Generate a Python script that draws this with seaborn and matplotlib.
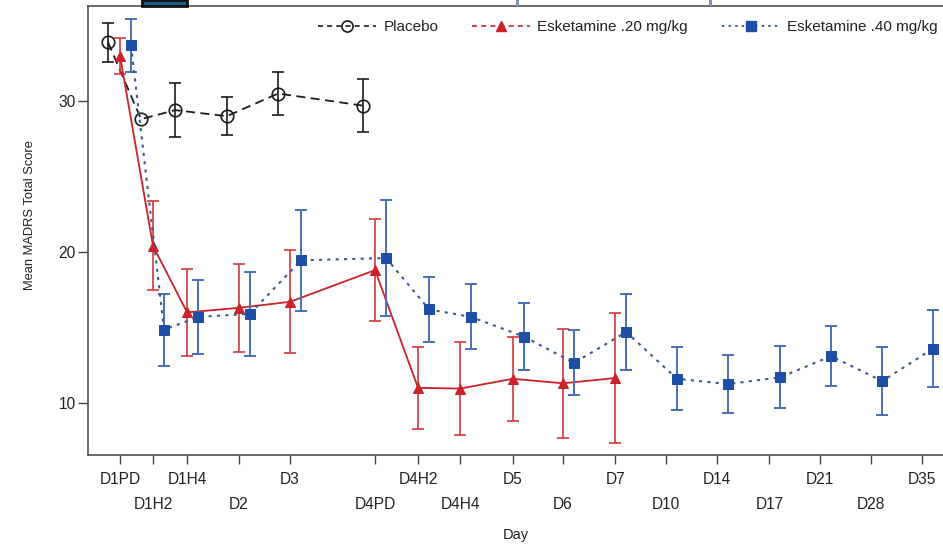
import numpy as np
import pandas as pd
import matplotlib
matplotlib.use("Agg")
import matplotlib.pyplot as plt
from matplotlib.lines import Line2D
from matplotlib.patches import Rectangle
import seaborn as sns

# Visit labels and their positions along the time axis
days = ["D1PD", "D1H2", "D1H4", "D2", "D3", "D4PD", "D4H2", "D4H4", "D5",
        "D6", "D7", "D10", "D14", "D17", "D21", "D28", "D35"]
day_pos = [0.0, 0.645, 1.31, 2.32, 3.32, 4.98, 5.82, 6.64, 7.67,
           8.65, 9.67, 10.66, 11.66, 12.68, 13.67, 14.67, 15.66]

# Mean MADRS total score and standard error per visit
placebo_mean = [33.9, 28.8, 29.4, 29.0, 30.5, 29.7]
placebo_err = [1.3, np.nan, 1.8, 1.25, 1.4, 1.75]

esk20_mean = [33.0, 20.4, 16.0, 16.3, 16.7, 18.8, 11.0, 10.95, 11.6, 11.3, 11.65]
esk20_err = [1.2, 2.95, 2.9, 2.9, 3.4, 3.4, 2.7, 3.1, 2.8, 3.6, 4.3]

esk40_mean = [33.7, 14.85, 15.7, 15.9, 19.45, 19.6, 16.2, 15.7, 14.4, 12.65,
              14.7, 11.6, 11.25, 11.7, 13.1, 11.45, 13.6]
esk40_err = [1.75, 2.4, 2.45, 2.8, 3.35, 3.85, 2.15, 2.15, 2.25, 2.15,
             2.55, 2.1, 1.9, 2.05, 2.0, 2.25, 2.55]

series_names = ["Placebo", "Esketamine .20 mg/kg", "Esketamine .40 mg/kg"]

sns.set_theme(style="ticks")
plt.rcParams["font.family"] = ["Liberation Sans", "DejaVu Sans"]

W, H = 943, 549
fig = plt.figure(figsize=(W / 100, H / 100), dpi=100)
ax = fig.add_axes([88 / W, (H - 455) / H, (W - 88) / W, (455 - 6) / H])

def frame(name, mean, err, shift):
    n = len(mean)
    return pd.DataFrame({
        "x": np.array(day_pos[:n]) + shift,
        "y": mean,
        "err": err,
        "group": name,
    })

pl = frame(series_names[0], placebo_mean, placebo_err, -0.234)
e20 = frame(series_names[1], esk20_mean, esk20_err, 0.0)
e40 = frame(series_names[2], esk40_mean, esk40_err, 0.215)

black = "#1c1c1c"
red_line = "#cc2229"
red_err = "#d2383d"
blue_mark = "#1f4ea6"
blue_err = "#4a6fb8"
blue_line = "#3c5a8c"

cap = 4.6
elw = 1.2

# Placebo
ax.errorbar(pl["x"], pl["y"], yerr=pl["err"], fmt="none", ecolor=black,
            elinewidth=elw, capsize=cap, capthick=elw, zorder=2)
sns.lineplot(data=pl, x="x", y="y", ax=ax, sort=False, color=black,
             linestyle=(0, (5, 3)), linewidth=1.3, marker="o", markersize=9,
             markerfacecolor="none", markeredgecolor=black, markeredgewidth=1.2,
             zorder=3, legend=False)

# Esketamine 0.20 mg/kg
ax.errorbar(e20["x"], e20["y"], yerr=e20["err"], fmt="none", ecolor=red_err,
            elinewidth=elw, capsize=cap, capthick=elw, zorder=4)
sns.lineplot(data=e20, x="x", y="y", ax=ax, sort=False, color=red_line,
             linestyle="-", linewidth=1.3, marker="^", markersize=7.5,
             markerfacecolor=red_line, markeredgecolor=red_line,
             zorder=5, legend=False)

# Esketamine 0.40 mg/kg
ax.errorbar(e40["x"], e40["y"], yerr=e40["err"], fmt="none", ecolor=blue_err,
            elinewidth=1.4, capsize=cap, capthick=1.4, zorder=6)
sns.lineplot(data=e40, x="x", y="y", ax=ax, sort=False, color=blue_line,
             linestyle=(0, (1.5, 2.5)), linewidth=1.5, marker="s", markersize=7.5,
             markerfacecolor=blue_mark, markeredgecolor=blue_mark,
             zorder=7, legend=False)

# Axes limits and frame
ax.set_xlim(-0.625, 16.07)
ax.set_ylim(6.55, 36.3)
ax.spines["right"].set_visible(False)
for s in ["left", "bottom", "top"]:
    ax.spines[s].set_color("#444444")
    ax.spines[s].set_linewidth(1.1)

# Y axis
ax.set_yticks([10, 20, 30])
ax.tick_params(axis="y", direction="out", length=7.5, width=1.0,
               color="#444444", pad=1.5, labelsize=11.2, labelcolor="#222222")
ax.set_ylabel("Mean MADRS Total Score", fontsize=9.3, color="#222222")
ax.yaxis.set_label_coords(-0.0605, 0.535)

# X axis: labels staggered on two rows
ax.set_xticks(day_pos[0::2])
ax.set_xticklabels(days[0::2])
ax.set_xticks(day_pos[1::2], minor=True)
ax.set_xticklabels(days[1::2], minor=True)
ax.tick_params(axis="x", which="major", direction="out", length=6.5, width=1.0,
               color="#444444", pad=5.5, labelsize=11.2, labelcolor="#222222")
ax.tick_params(axis="x", which="minor", direction="out", length=6.5, width=1.0,
               color="#444444", pad=23.5, labelsize=11.2, labelcolor="#222222")
ax.set_xlabel("Day", fontsize=10.5, color="#222222", labelpad=12)
ax.grid(False)

# Legend in one row across the top
handles = [
    Line2D([], [], color=black, linestyle=(0, (3, 2.5)), linewidth=1.2,
           marker="o", markersize=8, markerfacecolor="none",
           markeredgecolor=black, markeredgewidth=1.2),
    Line2D([], [], color=red_line, linestyle=(0, (3, 2.5)), linewidth=1.2,
           marker="^", markersize=7, markerfacecolor=red_line,
           markeredgecolor=red_line),
    Line2D([], [], color=blue_line, linestyle=(0, (1.2, 2.2)), linewidth=1.4,
           marker="s", markersize=7, markerfacecolor=blue_mark,
           markeredgecolor=blue_mark),
]
fig.legend(handles, series_names, loc="center right", ncol=3,
           bbox_to_anchor=(938 / W, 1 - 27 / H), frameon=False, fontsize=11,
           handlelength=3.8, handletextpad=0.5, columnspacing=2.2,
           borderaxespad=0, borderpad=0, labelcolor="#222222")

# Strip along the top edge
fig.patches.append(Rectangle((142 / W, 1 - 6 / H), 45 / W, 6 / H,
                             transform=fig.transFigure, facecolor="#1d5c85",
                             edgecolor="#111111", linewidth=2.0, zorder=10))
for xm in (517, 710):
    fig.patches.append(Rectangle(((xm - 1.5) / W, 1 - 6 / H), 3 / W, 6 / H,
                                 transform=fig.transFigure, facecolor="#7f95ad",
                                 edgecolor="none", zorder=10))

fig.savefig("out.png", dpi=100)
